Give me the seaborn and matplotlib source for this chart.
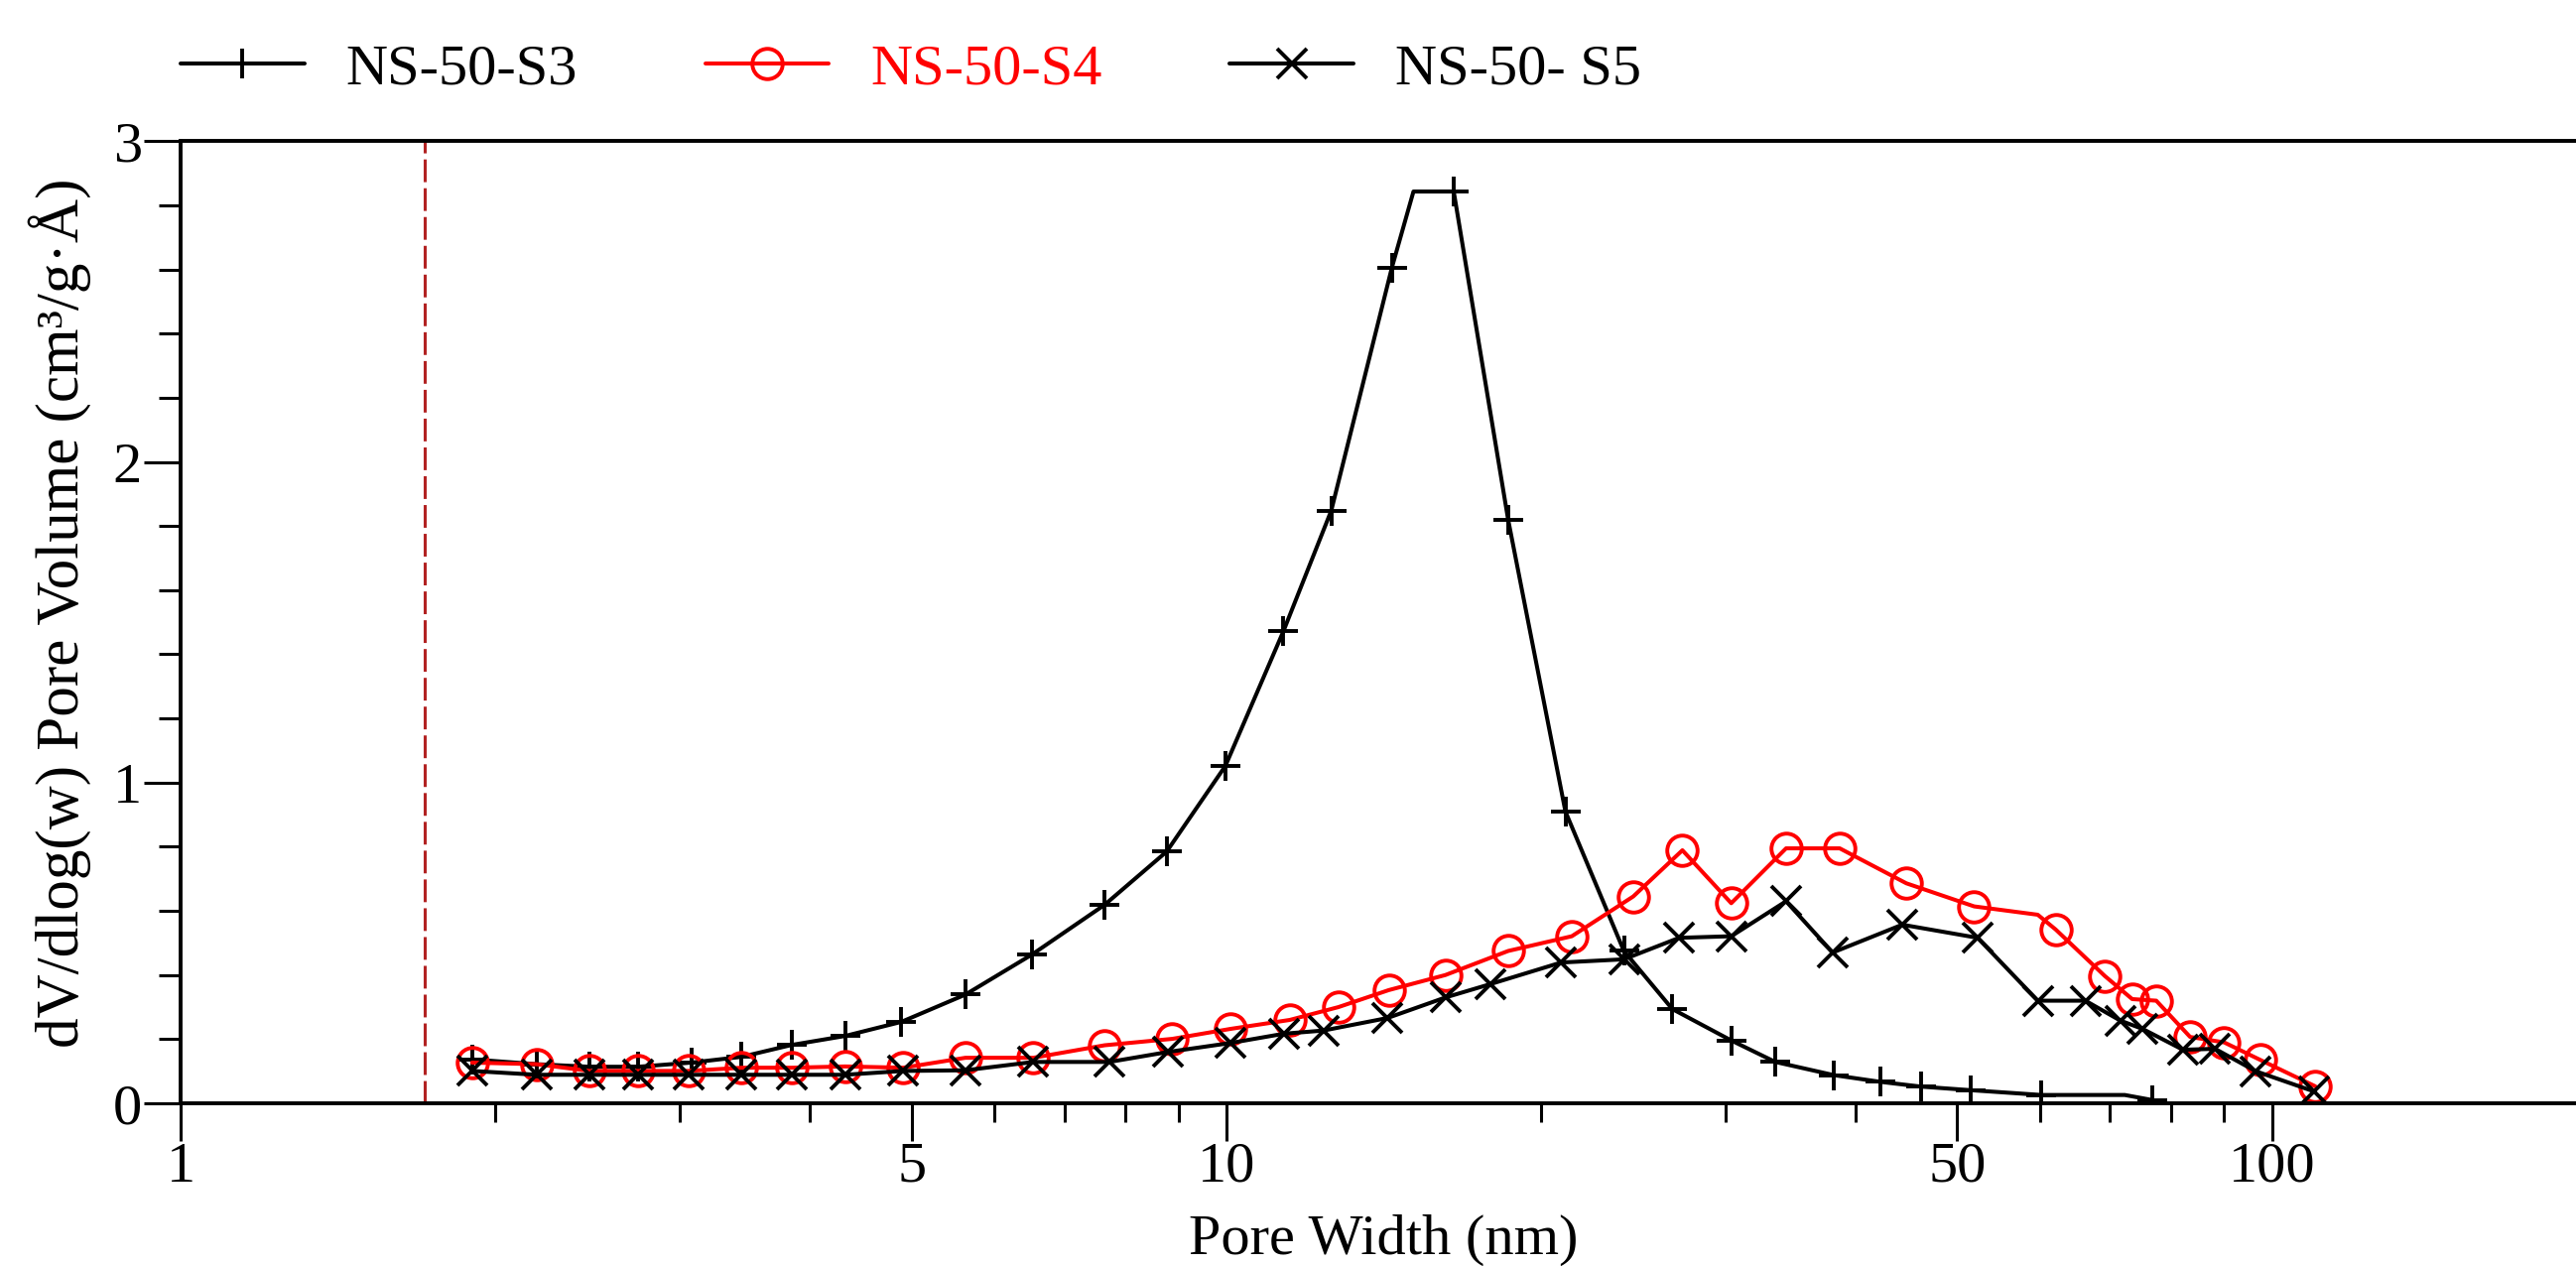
import numpy as np
import pandas as pd
import seaborn as sns
import matplotlib.pyplot as plt
from matplotlib.ticker import NullFormatter

# values: pore width (nm) vs dV/dlog(w)
s3_width = [1.90, 2.19, 2.46, 2.74, 3.08, 3.44, 3.84, 4.32, 4.89, 5.63, 6.52, 7.65, 8.77, 9.98,
            11.34, 12.6, 14.4, 15.1, 16.5, 18.6, 21.1, 24.0, 26.7, 30.4, 33.5, 38.1, 42.2, 46.2,
            51.5, 60.2, 72.3, 76.9]
s3_volume = [0.137, 0.122, 0.114, 0.114, 0.127, 0.145, 0.182, 0.210, 0.254, 0.339, 0.464, 0.619,
             0.785, 1.052, 1.472, 1.848, 2.606, 2.843, 2.843, 1.820, 0.910, 0.475, 0.294, 0.196,
             0.129, 0.088, 0.067, 0.052, 0.041, 0.026, 0.026, 0.010]
s3_unmarked = [17, 30]

s4_width = [1.90, 2.19, 2.46, 2.74, 3.06, 3.44, 3.84, 4.32, 4.91, 5.63, 6.54, 7.65, 8.88, 10.09,
            11.5, 12.8, 14.3, 16.2, 18.6, 21.4, 24.5, 27.3, 30.4, 34.3, 38.6, 44.7, 51.9, 59.7,
            62.1, 69.2, 73.5, 77.5, 83.5, 90.0, 97.5, 110.0]
s4_volume = [0.127, 0.122, 0.101, 0.101, 0.101, 0.111, 0.111, 0.115, 0.111, 0.142, 0.142, 0.181,
             0.201, 0.232, 0.260, 0.300, 0.353, 0.400, 0.475, 0.521, 0.645, 0.789, 0.624, 0.795,
             0.795, 0.686, 0.614, 0.588, 0.542, 0.397, 0.325, 0.320, 0.207, 0.190, 0.135, 0.053]
s4_unmarked = [27]

s5_width = [1.90, 2.19, 2.46, 2.74, 3.06, 3.44, 3.84, 4.32, 4.91, 5.63, 6.54, 7.73, 8.79, 10.09,
            11.35, 12.39, 14.26, 16.2, 17.9, 20.9, 24.0, 27.1, 30.4, 34.3, 38.0, 44.3, 52.3, 59.7,
            66.3, 71.6, 75.2, 82.2, 88.2, 96.5, 109.7]
s5_volume = [0.101, 0.089, 0.089, 0.089, 0.089, 0.089, 0.089, 0.089, 0.101, 0.103, 0.129, 0.129,
             0.160, 0.188, 0.217, 0.227, 0.266, 0.330, 0.372, 0.439, 0.449, 0.516, 0.521, 0.630,
             0.470, 0.557, 0.516, 0.320, 0.320, 0.258, 0.232, 0.167, 0.170, 0.100, 0.037]

series_names = ['NS-50-S3', 'NS-50-S4', 'NS-50- S5']
cutoff_width = 1.71

x_major = [1, 5, 10, 50, 100]
x_major_labels = ['1', '5', '10', '50', '100']
x_minor = [2, 3, 4, 6, 7, 8, 9, 20, 30, 40, 60, 70, 80, 90, 200]
y_major = [0, 1, 2, 3]
y_major_labels = ['0', '1', '2', '3']


def setup_style():
    sns.set_style("ticks")
    plt.rcParams['font.family'] = ['Liberation Serif', 'DejaVu Serif']
    plt.rcParams.update({
        'text.color': 'black',
        'axes.labelcolor': 'black',
        'axes.edgecolor': 'black',
        'xtick.color': 'black',
        'ytick.color': 'black',
    })


def marked(n, skip):
    return [i for i in range(n) if i not in skip]


def main():
    setup_style()

    fig = plt.figure(figsize=(25.96, 12.76), dpi=100)
    ax = fig.add_axes([0.0701, 0.1285, 0.9341, 0.7600])
    ax.set_xscale('log')

    line_kw = dict(linewidth=2.9, markersize=22, markeredgewidth=2.8,
                   markerfacecolor='none', estimator=None, legend=False, ax=ax)

    sns.lineplot(x=s3_width, y=s3_volume, color='black', marker='+', markeredgecolor='black',
                 markevery=marked(len(s3_width), s3_unmarked), label=series_names[0], **line_kw)
    sns.lineplot(x=s4_width, y=s4_volume, color='red', marker='o', markeredgecolor='red',
                 markevery=marked(len(s4_width), s4_unmarked), label=series_names[1], **line_kw)
    sns.lineplot(x=s5_width, y=s5_volume, color='black', marker='x', markeredgecolor='black',
                 label=series_names[2], **line_kw)

    ax.axvline(cutoff_width, color='#b22222', lw=2.2, dashes=(7.5, 2.0), zorder=1)

    ax.set_xlim(1, 200)
    ax.set_ylim(0, 3)
    ax.set_xticks(x_major, x_major_labels)
    ax.set_xticks(x_minor, minor=True)
    ax.xaxis.set_minor_formatter(NullFormatter())
    ax.set_yticks(y_major, y_major_labels)
    ax.set_yticks([v / 5 for v in range(1, 15) if v % 5], minor=True)

    ax.tick_params(axis='both', which='major', length=27, width=2.2, direction='out',
                   labelsize=42, pad=1)
    ax.tick_params(axis='x', which='minor', length=14, width=2.2, direction='out')
    ax.tick_params(axis='y', which='minor', length=16, width=2.2, direction='out')
    for side in ['left', 'bottom', 'top', 'right']:
        ax.spines[side].set_linewidth(2.8)

    ax.set_xlabel('Pore Width (nm)', fontsize=42)
    ax.set_ylabel('dV/dlog(w) Pore Volume (cm³/g·Å)', fontsize=44)
    ax.xaxis.set_label_coords(0.5, -0.115)
    ax.yaxis.set_label_coords(-0.037, 0.51)

    leg = fig.legend(handles=ax.lines[:3], labels=series_names, loc='center left',
                     bbox_to_anchor=(182 / 2596, 1 - 70 / 1276), ncol=3, frameon=False,
                     fontsize=42, handlelength=2.14, handletextpad=0.72, columnspacing=2.2,
                     borderpad=0, borderaxespad=0, labelcolor='linecolor', numpoints=1)
    for lh in leg.get_lines():
        lh.set_markevery([1])

    plt.savefig('out.png', dpi=100)


if __name__ == '__main__':
    main()
